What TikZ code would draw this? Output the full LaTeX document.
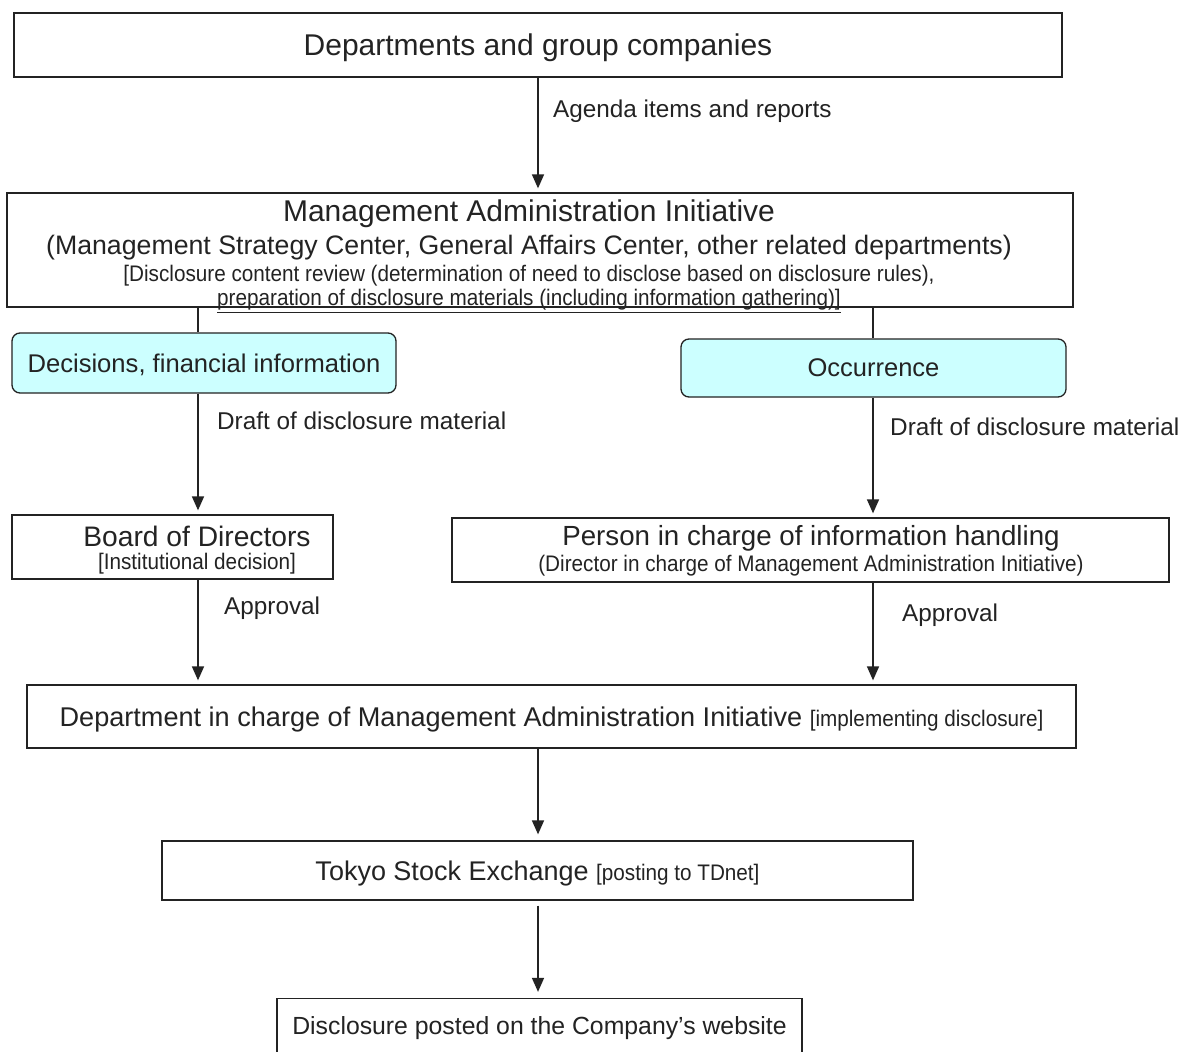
\documentclass[tikz,border=0pt]{standalone}
\usepackage{fontspec}
\setmainfont{Liberation Sans}
\newfontfamily\narrowfont[FakeStretch=0.92]{Liberation Sans}
\usepackage{tikz}
\usetikzlibrary{arrows.meta, positioning, calc}
\definecolor{dcyan}{RGB}{204,255,255}
\definecolor{dline}{RGB}{35,35,35}
\newcommand{\fsz}[1]{\fontsize{#1}{#1}\selectfont}
\newcommand{\nsz}{\narrowfont\fontsize{22.5}{24}\selectfont}

\begin{document}
\begin{tikzpicture}[x=1pt, y=-1pt,
  box/.style={draw=dline, line width=1.3pt, fill=white, inner sep=0pt, align=center, text=dline, text depth=0pt},
  cbox/.style={box, fill=dcyan, rounded corners=8pt},
  txt/.style={inner sep=0pt, text=dline},
  lbl/.style={txt, anchor=west, text depth=0pt, font=\fsz{24.3}},
  lin/.style={dline, line width=1.6pt},
  arr/.style={lin, shorten >=4pt, -{Triangle[length=14pt, width=12pt]}}]
% page
\clip (0,0) rectangle (1182,1051);
\fill[white] (0,0) rectangle (1182,1051);

% column lines
\coordinate (lcol) at (198,0);
\coordinate (rcol) at (873,0);
\coordinate (ccol) at (538,0);

% ---- top ----
\node[box, minimum width=1048, minimum height=64, font=\fsz{30}] (groups) at (538,45) {Departments and group companies};

% ---- management administration initiative ----
\node[box, minimum width=1066, minimum height=114] (mai) at (540,250) {};
\node[txt, font=\fsz{30}] (mai-a) at (529,214) {Management Administration Initiative};
\node[txt, font=\fsz{26.7}] (mai-b) at (529,248) {(Management Strategy Center, General Affairs Center, other related departments)};
\node[txt, font=\nsz] (mai-c) at (529,276) {[Disclosure content review (determination of need to disclose based on disclosure rules),};
\node[txt, font=\nsz] (mai-d) at (529,301) {\underline{preparation of disclosure materials (including information gathering)]}};

\draw[arr] (groups.south) -- (groups.south |- mai.north);
\node[lbl] (agenda) at (553,109) {Agenda items and reports};

% ---- kinds of information ----
\node[cbox, minimum width=384, minimum height=60, font=\fsz{25.6}] (decis) at (204,363) {Decisions, financial information};
\node[cbox, minimum width=385, minimum height=58, font=\fsz{25.5}] (occur) at (873.5,368) {Occurrence};
\draw[lin] (mai.south -| lcol) -- (decis.north -| lcol);
\draw[lin] (mai.south -| rcol) -- (occur.north -| rcol);

% ---- board / person in charge ----
\node[box, minimum width=321, minimum height=64] (board) at (172.5,547) {};
\node[txt, font=\fsz{28.2}] (board-a) at (197,536) {Board of Directors};
\node[txt, font=\nsz] (board-b) at (197,564) {[Institutional decision]};

\node[box, minimum width=717, minimum height=64] (person) at (810.5,550) {};
\node[txt, font=\fsz{27.7}] (person-a) at (811,538) {Person in charge of information handling};
\node[txt, font=\nsz] (person-b) at (811,566) {(Director in charge of Management Administration Initiative)};

\draw[arr] (decis.south -| lcol) -- (board.north -| lcol);
\node[lbl] (draft-l) at (217,421) {Draft of disclosure material};
\draw[arr] (occur.south -| rcol) -- (person.north -| rcol);
\node[lbl] (draft-r) at (890,427) {Draft of disclosure material};

% ---- implementing department ----
\node[box, minimum width=1049, minimum height=63] (impl) at (551.5,716.5)
  {\fsz{27.1}Department in charge of Management Administration Initiative {\nsz[implementing disclosure]}};

\draw[arr] (board.south -| lcol) -- (impl.north -| lcol);
\node[lbl] (appr-l) at (224,606) {Approval};
\draw[arr] (person.south -| rcol) -- (impl.north -| rcol);
\node[lbl] (appr-r) at (902,613) {Approval};

% ---- TSE and website ----
\node[box, minimum width=751, minimum height=59] (tse) at (537.5,870.5)
  {\fsz{27}Tokyo Stock Exchange {\nsz[posting to TDnet]}};
\node[box, minimum width=525, minimum height=54, font=\fsz{24.8}] (web) at (539.5,1025.5) {Disclosure posted on the Company’s website};

\draw[arr, shorten >=6pt] (impl.south -| ccol) -- (tse.north -| ccol);
\draw[arr, shorten <=5pt, shorten >=6pt] (tse.south -| ccol) -- (web.north -| ccol);
\end{tikzpicture}
\end{document}
